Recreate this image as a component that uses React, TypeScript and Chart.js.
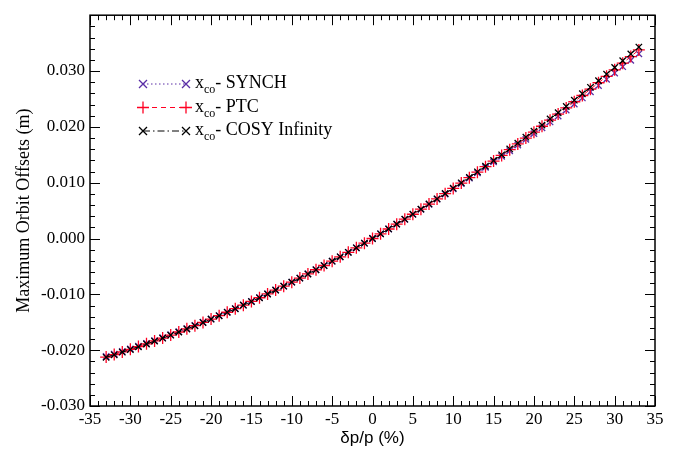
import React, { useEffect, useRef } from "react";
import { Chart, registerables } from "chart.js";

Chart.register(...registerables);

// δp/p (%) sample points
const dpp: number[] = [
  -33, -32, -31, -30, -29, -28, -27, -26, -25, -24, -23, -22, -21, -20, -19, -18, -17,
  -16, -15, -14, -13, -12, -11, -10, -9, -8, -7, -6, -5, -4, -3, -2, -1, 0,
  1, 2, 3, 4, 5, 6, 7, 8, 9, 10, 11, 12, 13, 14, 15, 16, 17,
  18, 19, 20, 21, 22, 23, 24, 25, 26, 27, 28, 29, 30, 31, 32, 33,
];

// maximum orbit offsets in mm
const synchMM: number[] = [
  -21.135, -20.689, -20.233, -19.763, -19.281, -18.788, -18.282, -17.763, -17.233, -16.69,
  -16.135, -15.568, -14.988, -14.397, -13.793, -13.177, -12.549, -11.909, -11.256, -10.591,
  -9.914, -9.224, -8.523, -7.809, -7.083, -6.345, -5.594, -4.832, -4.058, -3.27, -2.471,
  -1.66, -0.836, 0,
  0.847, 1.704, 2.57, 3.446, 4.331, 5.227, 6.133, 7.047, 7.973, 8.907, 9.851, 10.806,
  11.769, 12.742, 13.725, 14.718, 15.721, 16.733, 17.755, 18.787, 19.829, 20.88, 21.941,
  23.012, 24.092, 25.183, 26.283, 27.393, 28.513, 29.641, 30.78, 31.929, 33.087,
];

const ptcMM: number[] = [
  -21.235, -20.783, -20.321, -19.846, -19.358, -18.86, -18.349, -17.825, -17.29, -16.743,
  -16.184, -15.613, -15.029, -14.434, -13.826, -13.207, -12.576, -11.932, -11.277, -10.609,
  -9.929, -9.237, -8.534, -7.818, -7.09, -6.351, -5.599, -4.835, -4.06, -3.271, -2.472,
  -1.66, -0.836, 0,
  0.848, 1.706, 2.576, 3.457, 4.348, 5.251, 6.165, 7.089, 8.025, 8.971, 9.929, 10.898,
  11.878, 12.868, 13.87, 14.883, 15.907, 16.941, 17.987, 19.044, 20.113, 21.191, 22.281,
  23.383, 24.494, 25.618, 26.751, 27.897, 29.054, 30.22, 31.398, 32.587, 33.787,
];

const cosyMM: number[] = [
  -21.285, -20.83, -20.365, -19.887, -19.397, -18.896, -18.382, -17.856, -17.319, -16.769,
  -16.208, -15.635, -15.049, -14.452, -13.843, -13.222, -12.589, -11.944, -11.287, -10.618,
  -9.937, -9.244, -8.54, -7.823, -7.094, -6.354, -5.601, -4.837, -4.061, -3.272, -2.472,
  -1.66, -0.836, 0,
  0.848, 1.708, 2.58, 3.464, 4.359, 5.267, 6.187, 7.118, 8.062, 9.017, 9.984, 10.964,
  11.955, 12.958, 13.973, 15.0, 16.039, 17.09, 18.153, 19.228, 20.315, 21.413, 22.524,
  23.647, 24.781, 25.928, 27.086, 28.257, 29.44, 30.633, 31.839, 33.057, 34.287,
];

const seriesNames: string[] = ["SYNCH", "PTC", "COSY Infinity"];
const xTitle = "δp/p (%)";
const yTitle = "Maximum Orbit Offsets (m)";

const X_MIN = -35, X_MAX = 35, X_MAJOR = 5, X_MINOR = 1;
const Y_MIN = -0.03, Y_MAX = 0.04, Y_MAJOR = 0.01, Y_MINOR = 0.002;

const C_SYNCH = "#5a2ea6";
const C_PTC = "#ff0022";
const C_COSY = "#000000";

const toPts = (arr: number[]) => dpp.map((d, i) => ({ x: d, y: arr[i] / 1000 }));

const SERIF = "'Liberation Serif', 'DejaVu Serif', serif";

export default function App() {
  const ref = useRef<HTMLCanvasElement | null>(null);
  useEffect(() => {
    if (!ref.current) return;
    const framePlugin = {
      id: "frame",
      afterDraw(chart: any) {
        const { ctx, chartArea } = chart;
        const { left, right, top, bottom } = chartArea;
        const xs = chart.scales.x;
        const ys = chart.scales.y;
        ctx.save();
        ctx.strokeStyle = "#000";
        ctx.lineWidth = 1.5;
        ctx.strokeRect(left, top, right - left, bottom - top);
        ctx.lineWidth = 1;
        const nx = Math.round((X_MAX - X_MIN) / X_MINOR);
        for (let i = 0; i <= nx; i++) {
          const v = X_MIN + i * X_MINOR;
          const major = Math.abs(v / X_MAJOR - Math.round(v / X_MAJOR)) < 1e-6;
          const len = major ? 10 : 5;
          const px = Math.round(xs.getPixelForValue(v)) + 0.5;
          ctx.beginPath();
          ctx.moveTo(px, bottom);
          ctx.lineTo(px, bottom - len);
          ctx.moveTo(px, top);
          ctx.lineTo(px, top + len);
          ctx.stroke();
        }
        const ny = Math.round((Y_MAX - Y_MIN) / Y_MINOR);
        for (let i = 0; i <= ny; i++) {
          const v = Y_MIN + i * Y_MINOR;
          const major = Math.abs(v / Y_MAJOR - Math.round(v / Y_MAJOR)) < 1e-6;
          const len = major ? 10 : 5;
          const py = Math.round(ys.getPixelForValue(v)) + 0.5;
          ctx.beginPath();
          ctx.moveTo(left, py);
          ctx.lineTo(left + len, py);
          ctx.moveTo(right, py);
          ctx.lineTo(right - len, py);
          ctx.stroke();
        }
        ctx.fillStyle = "#000";
        ctx.font = "17px 'Liberation Sans', Arial, sans-serif";
        ctx.textAlign = "center";
        ctx.textBaseline = "middle";
        ctx.fillText(xTitle, (left + right) / 2, 438);
        ctx.save();
        ctx.translate(24, (top + bottom) / 2);
        ctx.rotate(-Math.PI / 2);
        ctx.font = "18px " + SERIF;
        ctx.fillText(yTitle, 0, 0);
        ctx.restore();

        const rows = [
          { name: seriesNames[0], color: C_SYNCH, dash: [1.5, 2.5], style: "x" },
          { name: seriesNames[1], color: C_PTC, dash: [5, 4], style: "+" },
          { name: seriesNames[2], color: C_COSY, dash: [7, 3, 1.5, 3], style: "x" },
        ];
        const lx0 = 143, lx1 = 186, ly0 = 84, dy = 23.5;
        rows.forEach((r, i) => {
          const y = ly0 + i * dy;
          ctx.strokeStyle = r.color;
          ctx.lineWidth = 1;
          ctx.setLineDash(r.dash);
          ctx.beginPath();
          ctx.moveTo(lx0, y);
          ctx.lineTo(lx1, y);
          ctx.stroke();
          ctx.setLineDash([]);
          ctx.lineWidth = 1.3;
          for (const mx of [lx0, lx1]) {
            ctx.beginPath();
            if (r.style === "x") {
              ctx.moveTo(mx - 4, y - 4);
              ctx.lineTo(mx + 4, y + 4);
              ctx.moveTo(mx - 4, y + 4);
              ctx.lineTo(mx + 4, y - 4);
            } else {
              ctx.moveTo(mx - 6, y);
              ctx.lineTo(mx + 6, y);
              ctx.moveTo(mx, y - 6);
              ctx.lineTo(mx, y + 6);
            }
            ctx.stroke();
          }
          ctx.fillStyle = "#000";
          ctx.textAlign = "left";
          ctx.textBaseline = "alphabetic";
          ctx.font = "18px " + SERIF;
          let tx = 195;
          const base = y + 4;
          ctx.fillText("x", tx, base);
          tx += ctx.measureText("x").width;
          ctx.font = "12px " + SERIF;
          ctx.fillText("co", tx, base + 5);
          tx += ctx.measureText("co").width;
          ctx.font = "18px " + SERIF;
          ctx.fillText("- " + r.name, tx, base);
        });
        ctx.restore();
      },
    };

    const chart = new Chart(ref.current, {
      type: "line",
      data: {
        datasets: [
          {
            label: seriesNames[0],
            data: toPts(synchMM),
            borderColor: C_SYNCH,
            borderWidth: 1,
            borderDash: [1.5, 2.5],
            pointStyle: "crossRot",
            pointRadius: 4.5,
            pointBorderWidth: 1.3,
            pointBorderColor: C_SYNCH,
            order: 3,
          },
          {
            label: seriesNames[1],
            data: toPts(ptcMM),
            borderColor: C_PTC,
            borderWidth: 1,
            borderDash: [5, 4],
            pointStyle: "cross",
            pointRadius: 6,
            pointBorderWidth: 1.3,
            pointBorderColor: C_PTC,
            order: 2,
          },
          {
            label: seriesNames[2],
            data: toPts(cosyMM),
            borderColor: C_COSY,
            borderWidth: 1,
            borderDash: [7, 3, 1.5, 3],
            pointStyle: "crossRot",
            pointRadius: 4.5,
            pointBorderWidth: 1.3,
            pointBorderColor: C_COSY,
            order: 1,
          },
        ],
      },
      options: {
        responsive: false,
        animation: false,
        layout: { padding: { left: 0, right: 33, top: 12, bottom: 0 } },
        plugins: { legend: { display: false }, tooltip: { enabled: false } },
        scales: {
          x: {
            type: "linear",
            min: X_MIN,
            max: X_MAX,
            grid: { display: false, drawTicks: false },
            border: { display: false },
            ticks: {
              stepSize: X_MAJOR,
              padding: 3,
              color: "#000",
              font: { family: SERIF, size: 17 },
              maxRotation: 0,
              autoSkip: false,
            },
            afterFit(s: any) {
              s.height = 44;
            },
          },
          y: {
            type: "linear",
            min: Y_MIN,
            max: Y_MAX,
            grid: { display: false, drawTicks: false },
            border: { display: false },
            ticks: {
              stepSize: Y_MAJOR,
              padding: 5,
              color: "#000",
              font: { family: SERIF, size: 17 },
              autoSkip: false,
              callback: (v: any) => {
                const n = Number(v);
                if (Math.abs(n - Y_MAX) < 1e-9) return "";
                return n.toFixed(3);
              },
            },
            afterFit(s: any) {
              s.width = 90;
            },
          },
        },
      },
      plugins: [framePlugin],
    } as any);
    return () => chart.destroy();
  }, []);

  return (
    <div style={{ position: "fixed", left: 0, top: 0, width: 688, height: 450, background: "#fff" }}>
      <canvas ref={ref} width={688} height={450} style={{ display: "block" }} />
    </div>
  );
}
